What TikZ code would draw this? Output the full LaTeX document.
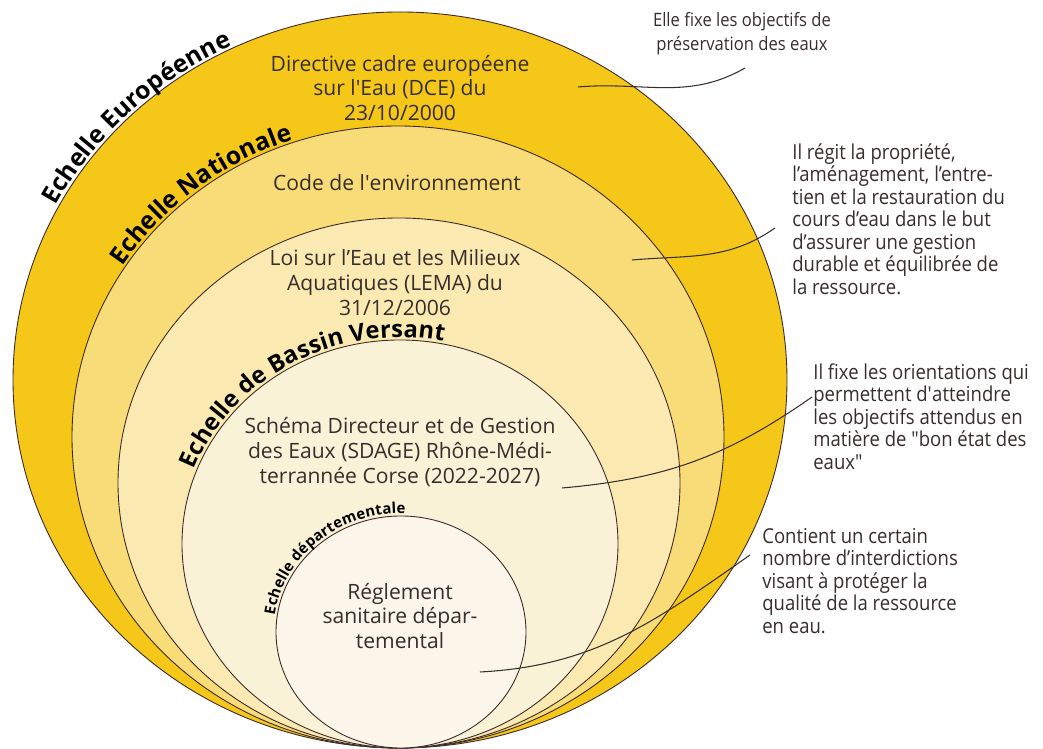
\documentclass[tikz,border=0pt]{standalone}
\usepackage{fontspec}
\setmainfont{Open Sans}
\newfontfamily\notefont[FakeStretch=0.9]{Open Sans}
\usetikzlibrary{decorations.text}
\definecolor{euro}{RGB}{244,199,24}
\definecolor{nat}{RGB}{248,220,120}
\definecolor{lema}{RGB}{250,234,178}
\definecolor{bassin}{RGB}{250,242,214}
\definecolor{dept}{RGB}{251,246,233}
\definecolor{rim}{RGB}{60,40,40}
\definecolor{ink}{RGB}{55,45,45}
\newcommand{\echfont}{\bfseries\fontsize{14}{16}\selectfont}
\newcommand{\midechfont}{\bfseries\fontsize{13.5}{16}\selectfont}
\newcommand{\smallechfont}{\bfseries\fontsize{8.5}{10}\selectfont}
\newcommand{\sq}{\textquotesingle}

\begin{document}
\begin{tikzpicture}[x=0.2mm,y=0.2mm]
\tikzset{ring/.style={draw=rim, line width=0.5pt},
  inner/.style={text=ink, align=center, font=\fontsize{12}{14.2}\selectfont},
  note/.style={text=ink, align=left, inner sep=0pt, font=\notefont\fontsize{11.7}{12.8}\selectfont},
  leader/.style={draw=ink, line width=0.6pt},
  echlabel/.style={decorate, decoration={text along path, raise=1.5pt, text={#1}}}}
\useasboundingbox (0,0) rectangle (1043,749);

\filldraw[ring, fill=euro] (400,369) ellipse [x radius=387, y radius=368];
\filldraw[ring, fill=nat] (398,312) ellipse [x radius=326, y radius=311];
\filldraw[ring, fill=lema] (399,266) ellipse [x radius=281, y radius=265];
\filldraw[ring, fill=bassin] (400,205) ellipse [x radius=218, y radius=204];
\filldraw[ring, fill=dept] (401,117) ellipse [x radius=125, y radius=116];

\path[echlabel={|\echfont|Echelle Européenne}] (400,369) ++(152:387 and 368)
  arc [start angle=152, end angle=95, x radius=387, y radius=368];
\path[echlabel={|\echfont|Echelle Nationale}] (398,312) ++(147:326 and 311)
  arc [start angle=147, end angle=90, x radius=326, y radius=311];
\path[echlabel={|\midechfont|Echelle de Bassin Versant}] (400,205) ++(159:218 and 204)
  arc [start angle=159, end angle=60, x radius=218, y radius=204];
\path[echlabel={|\smallechfont|Echelle départementale}] (401,117) ++(172:125 and 116)
  arc [start angle=172, end angle=70, x radius=125, y radius=116];

\node[inner] (dce) at (400,661) {Directive cadre européene\\sur l\sq Eau (DCE) du\\23/10/2000};
\node[inner] (code) at (397,566) {Code de l\sq environnement};
\node[inner] (loi) at (395,466) {Loi sur l’Eau et les Milieux\\Aquatiques (LEMA) du\\31/12/2006};
\node[inner] (sdage) at (400,297) {Schéma Directeur et de Gestion\\des Eaux (SDAGE) Rhône-Médi-\\terrannée Corse (2022-2027)};
\node[inner] (rsd) at (400,133) {Réglement\\sanitaire dépar-\\temental};

\node[note, align=center, font=\notefont\fontsize{10.5}{13.6}\selectfont] (noteDce) at (742,715) {Elle fixe les objectifs de\\préservation des eaux};
\node[note, anchor=north west] (noteCode) at (792,606) {Il régit la propriété,\\l’aménagement, l’entre-\\tien et la restauration du\\cours d’eau dans le but\\d’assurer une gestion\\durable et équilibrée de\\la ressource.};
\node[note, anchor=north west] (noteSdage) at (813,386) {Il fixe les orientations qui\\permettent d\sq atteindre\\les objectifs attendus en\\matière de "bon état des\\eaux"};
\node[note, anchor=north west] (noteRsd) at (762,221) {Contient un certain\\nombre d’interdictions\\visant à protéger la\\qualité de la ressource\\en eau.};

\coordinate (sDce) at (745,681);
\coordinate (eDce) at (578,662);
\coordinate (sCode) at (775,521);
\coordinate (eCode) at (632,489);
\coordinate (sSdage) at (812,352);
\coordinate (eSdage) at (562,261);
\coordinate (sRsd) at (750,194);
\coordinate (eRsd) at (480,77);
\draw[leader] (sDce) to[out=210, in=5] (eDce);
\draw[leader] (sCode) to[out=215, in=5] (eCode);
\draw[leader] (sSdage) to[out=215, in=5] (eSdage);
\draw[leader] (sRsd) to[out=215, in=3] (eRsd);

\end{tikzpicture}
\end{document}
